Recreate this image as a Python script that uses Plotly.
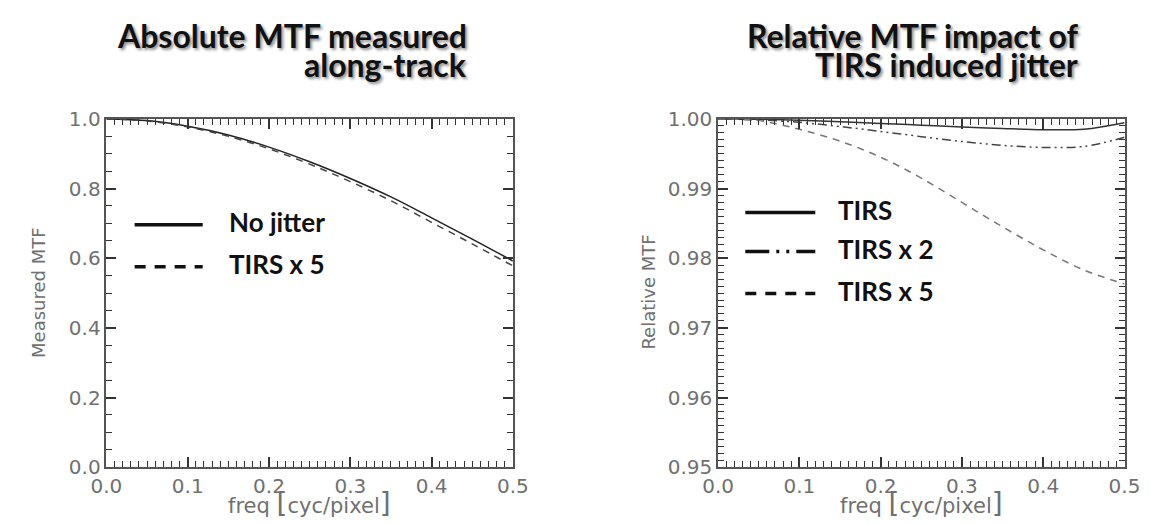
import plotly.graph_objects as go

W, H = 1159, 525

# ---------------- data ----------------
freq = [0.0, 0.05, 0.10, 0.15, 0.20, 0.25, 0.30, 0.35, 0.40, 0.45, 0.50]

abs_no_jitter = [1.000, 0.995, 0.979, 0.954, 0.919, 0.877, 0.829, 0.776, 0.716, 0.655, 0.592]
abs_tirs_x5   = [1.000, 0.994, 0.977, 0.950, 0.914, 0.870, 0.820, 0.765, 0.703, 0.641, 0.578]

rel_tirs    = [1.0000, 0.99995, 0.99980, 0.99958, 0.99935, 0.99910, 0.99885, 0.99862, 0.99845, 0.99852, 0.99945]
rel_tirs_x2 = [1.0000, 0.99985, 0.99950, 0.99890, 0.99820, 0.99745, 0.99675, 0.99620, 0.99590, 0.99605, 0.99735]
rel_tirs_x5 = [1.0000, 0.99975, 0.99850, 0.99680, 0.99450, 0.99150, 0.98800, 0.98450, 0.98120, 0.97830, 0.97630]

left_title = ["Absolute MTF measured", "along-track"]
right_title = ["Relative MTF impact of", "TIRS induced jitter"]
left_legend = ["No jitter", "TIRS x 5"]
right_legend = ["TIRS", "TIRS x 2", "TIRS x 5"]

# ---------------- layout helpers ----------------
def px(x):
    return x / W

def py(y):
    return 1 - y / H

L_X0, L_X1 = 93, 511
R_X0, R_X1 = 722, 1140
Y_TOP, Y_BOT = 112, 477

AX_COL = "#555555"
TICK_FONT = dict(family="DejaVu Sans", size=20, color="#707070")

def axis(domain, rng, dtick, minor_dtick, fmt):
    return dict(
        domain=domain, range=rng, dtick=dtick, tick0=rng[0], tickformat=fmt,
        showline=True, linecolor=AX_COL, linewidth=1.6, mirror="allticks",
        ticks="inside", ticklen=10, tickwidth=1.6, tickcolor="#333",
        showgrid=False, zeroline=False, tickfont=TICK_FONT,
        minor=dict(ticks="inside", ticklen=6, tickwidth=1.4, tickcolor="#333",
                   dtick=minor_dtick, tick0=rng[0], showgrid=False),
        fixedrange=True, layer="above traces",
    )

fig = go.Figure()

DASH = "7px,6px"
DASHDOT3 = "9px,4px,2px,4px,2px,4px"

fig.add_trace(go.Scatter(x=freq, y=abs_no_jitter, mode="lines", line=dict(color="#222", width=1.5, shape="spline"),
                         xaxis="x", yaxis="y", showlegend=False))
fig.add_trace(go.Scatter(x=freq, y=abs_tirs_x5, mode="lines", line=dict(color="#444", width=1.5, dash=DASH, shape="spline"),
                         xaxis="x", yaxis="y", showlegend=False))

fig.add_trace(go.Scatter(x=freq, y=rel_tirs, mode="lines", line=dict(color="#333", width=1.5, shape="spline"),
                         xaxis="x2", yaxis="y2", showlegend=False))
fig.add_trace(go.Scatter(x=freq, y=rel_tirs_x2, mode="lines", line=dict(color="#444", width=1.5, dash=DASHDOT3, shape="spline"),
                         xaxis="x2", yaxis="y2", showlegend=False))
fig.add_trace(go.Scatter(x=freq, y=rel_tirs_x5, mode="lines", line=dict(color="#777", width=1.5, dash=DASH, shape="spline"),
                         xaxis="x2", yaxis="y2", showlegend=False))

ydom = [py(Y_BOT), py(Y_TOP)]
fig.update_layout(
    width=W, height=H, margin=dict(l=0, r=0, t=0, b=0),
    paper_bgcolor="white", plot_bgcolor="white",
    xaxis=axis([px(L_X0), px(L_X1)], [0, 0.5], 0.1, 0.01, ".1f"),
    yaxis=axis(ydom, [0, 1.0], 0.2, 0.05, ".1f"),
    xaxis2=axis([px(R_X0), px(R_X1)], [0, 0.5], 0.1, 0.01, ".1f"),
    yaxis2=axis(ydom, [0.95, 1.0], 0.01, 0.001, ".2f"),
    showlegend=False,
)
fig.layout.xaxis2.anchor = "y2"
fig.layout.yaxis2.anchor = "x2"

annotations = []
TITLE_FONT = dict(family="Lato", size=32, color="#111", weight="bold",
                  shadow="2px 2px 3px rgba(0,0,0,0.45)")
for lines, xr in ((left_title, 466), (right_title, 1094)):
    for i, t in enumerate(lines):
        annotations.append(dict(text=t, x=px(xr), y=py(25 + 30 * i), xref="paper", yref="paper",
                                xanchor="right", yanchor="middle", showarrow=False, font=TITLE_FONT))

# axis titles
AX_TITLE_FONT = dict(family="DejaVu Sans", size=21, color="#707070")
xt = 'freq <span style="font-size:28px">[</span>cyc/pixel<span style="font-size:28px">]</span>'
for x0, x1 in ((L_X0, L_X1), (R_X0, R_X1)):
    annotations.append(dict(text=xt, x=px((x0 + x1) / 2), y=py(515), xref="paper", yref="paper",
                            xanchor="center", yanchor="middle", showarrow=False, font=AX_TITLE_FONT))
annotations.append(dict(text="Measured MTF", x=px(23), y=py(294), xref="paper", yref="paper", textangle=-90,
                        xanchor="center", yanchor="middle", showarrow=False,
                        font=dict(family="DejaVu Sans", size=18, color="#707070")))
annotations.append(dict(text="Relative MTF", x=px(651), y=py(294), xref="paper", yref="paper", textangle=-90,
                        xanchor="center", yanchor="middle", showarrow=False,
                        font=dict(family="DejaVu Sans", size=18, color="#707070")))

# legends
LEG_FONT = dict(family="Lato", size=26, color="#111", weight="bold")
shapes = []
left_leg_y = [223, 267]
left_leg_dash = ["solid", "11px,9px"]
for t, yy, d in zip(left_legend, left_leg_y, left_leg_dash):
    shapes.append(dict(type="line", xref="paper", yref="paper", x0=px(122), x1=px(192), y0=py(yy), y1=py(yy),
                       line=dict(color="#111", width=3.5, dash=d)))
    annotations.append(dict(text=t, x=px(217), y=py(yy - 3), xref="paper", yref="paper", xanchor="left",
                            yanchor="middle", showarrow=False, font=LEG_FONT))

right_leg_y = [210, 251, 295]
right_leg_dash = ["solid", "24px,7px,3px,7px,3px,7px", "11px,9px"]
for t, yy, d in zip(right_legend, right_leg_y, right_leg_dash):
    shapes.append(dict(type="line", xref="paper", yref="paper", x0=px(750), x1=px(822), y0=py(yy), y1=py(yy),
                       line=dict(color="#111", width=3.5, dash=d)))
    annotations.append(dict(text=t, x=px(843), y=py(yy - 3), xref="paper", yref="paper", xanchor="left",
                            yanchor="middle", showarrow=False, font=LEG_FONT))

fig.update_layout(annotations=annotations, shapes=shapes)

fig.write_html("out.html", config={"displayModeBar": False})
